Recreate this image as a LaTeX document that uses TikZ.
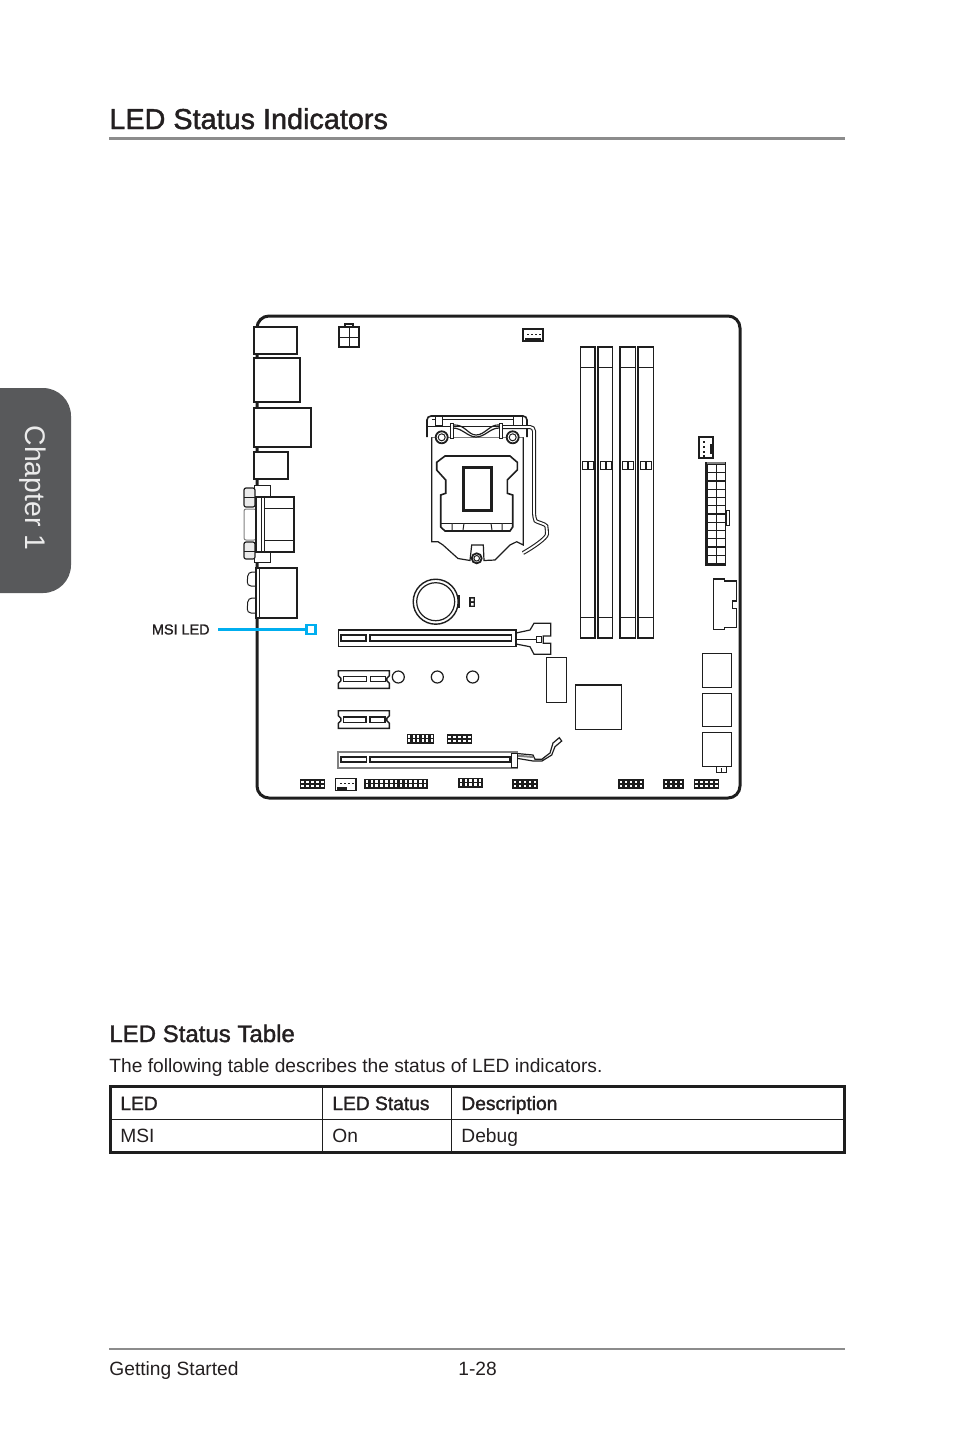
\documentclass[tikz,border=0pt]{standalone}
\usepackage{fontspec}
\setmainfont{Liberation Sans}
\newfontfamily\headfont[FakeBold=1.5]{Liberation Sans}
\definecolor{tabgrey}{RGB}{88, 89, 91}
\definecolor{rulegrey}{RGB}{140, 140, 140}
\definecolor{ledblue}{RGB}{0, 174, 239}
\definecolor{boardblack}{RGB}{30, 30, 30}
\definecolor{textblack}{RGB}{35, 31, 32}

\tikzset{
    board/.style={draw=boardblack, line width=0.7pt, fill=white},
    thickpart/.style={draw=boardblack, line width=1.1pt, fill=white},
    thinpart/.style={draw=boardblack, line width=0.5pt, fill=white},
    greypart/.style={draw=gray, line width=0.8pt, fill=white},
    slotcut/.style={draw=boardblack, line width=0.6pt, fill=white},
    plain/.style={inner sep=0, text=textblack, anchor=base west},
    headline/.style={plain, font=\headfont\fontsize{14.4}{16}\selectfont},
    subline/.style={plain, font=\headfont\fontsize{12}{14}\selectfont},
    bodyline/.style={plain, font=\fontsize{9.6}{12}\selectfont},
    boldcell/.style={plain, font=\headfont\fontsize{9.6}{12}\selectfont},
}

% black pin header: left, top, columns, column width
\newcommand{\pinheader}[4]{
    \fill[boardblack] (#1,#2) rectangle ++({#3*#4+0.6},10);
    \foreach \c in {1,...,#3} {
        \fill[white] ({#1+(\c-1)*#4+1.4},#2+1.6) rectangle ++({#4-2.3},2.7);
        \fill[white] ({#1+(\c-1)*#4+1.4},#2+5.6) rectangle ++({#4-2.3},2.7);
    }
}

\begin{document}
\begin{tikzpicture}[x=0.5pt, y=-0.5pt]
    \useasboundingbox (0,0) rectangle (954,1432);

    % chapter tab
    \fill[tabgrey, rounded corners=14pt] (-40,388) -- (71,388) -- (71,593) -- (-40,593) -- cycle;
    \node[inner sep=0, rotate=-90, text=white!92!black, font=\fontsize{14.2}{16}\selectfont] (chapter) at (33,488) {Chapter 1};

    % page heading
    \node[headline] (title) at (109,129) {LED Status Indicators};
    \fill[rulegrey] (109,137) rectangle (845,140);

    % board outline
    \draw[boardblack, line width=1.5pt, rounded corners=6pt] (257,640) -- (257,316) -- (740,316) -- (740,798) -- (257,798) -- cycle;

    % rear ports
    \draw[thickpart] (254,327) rectangle (297,354);
    \draw[board] (254,358) rectangle (300,402);
    \draw[board] (254,408) rectangle (311,447);
    \draw[board] (254,452) rectangle (288,479);
    \draw[thinpart] (254,485) rectangle (270,497);
    \draw[thinpart] (254,552) rectangle (270,562);
    \draw[greypart, line width=0.5pt, rounded corners=1pt] (244,509) rectangle (256,540);
    \draw[draw=boardblack, line width=0.6pt, fill=white!92!black, rounded corners=1pt] (244,488) rectangle (255,507);
    \draw[draw=boardblack, line width=0.6pt, fill=white!92!black, rounded corners=1pt] (244,542) rectangle (255,559);
    \draw[boardblack, line width=0.4pt] (244,497) -- (255,497) (244,551) -- (255,551);
    \draw[thickpart] (256,497) rectangle (294,552);
    \draw[thinpart] (261,497) -- (261,552) (264,497) -- (264,552) (264,508) -- (294,508) (264,540) -- (294,540);
    \draw[thinpart, rounded corners=2pt] (256,572) -- (248,572) -- (247,586) -- (256,586);
    \draw[thinpart, rounded corners=2pt] (256,598) -- (248,598) -- (247,613) -- (256,613);
    \draw[thickpart, line width=1.4pt] (256,568) rectangle (297,618);
    \draw[thinpart] (259,568) -- (259,618);

    % power connector and fan headers
    \draw[board] (345,327) -- (345,324) -- (353,324) -- (353,327);
    \draw[board] (339,327) rectangle (359,347);
    \draw[thinpart] (349,327) -- (349,347) (339,337) -- (359,337);
    \draw[board] (523,329) rectangle (543,341);
    \fill[boardblack] (525,338) rectangle (541,341);
    \foreach \px in {527,531,535,539} {
        \fill[boardblack] (\px,333.5) rectangle ++(1.8,1.8);
    }
    \draw[board] (699,437) rectangle (713,458);
    \fill[boardblack] (710,444) rectangle (713,454);
    \foreach \py in {441,446,451,455} {
        \fill[boardblack] (703,\py) rectangle ++(2,2);
    }

    % memory slots
    \foreach \sx/\sw in {580.5/14.7, 598.3/14.2, 620.3/15.2, 638.3/15.2} {
        \draw[board, line width=0.9pt] (\sx,347) rectangle ++(\sw,291);
        \draw[thinpart] (\sx,367) -- ++(\sw,0);
        \draw[boardblack, line width=0.9pt] (\sx,617.5) -- ++(\sw,0);
        \draw[thinpart] ({\sx+2.2},461) rectangle ++(5,8);
        \draw[thinpart] ({\sx+8.2},461) rectangle ++(5,8);
    }

    % 24 pin power
    \fill[boardblack] (705,462) rectangle (726,566);
    \fill[gray] (707,462) rectangle (725,464);
    \foreach \r in {0,...,11} {
        \fill[white] (708,{465+\r*8.27}) rectangle ++(7.5,7);
        \fill[white] (717,{465+\r*8.27}) rectangle ++(7.5,7);
    }
    \draw[thinpart] (726,510) rectangle (729,525);
    \draw[board] (713.3,579) -- (724.3,579) -- (724.3,581) -- (736.3,581) -- (736.3,601) -- (732.3,601) -- (732.3,608.3) -- (736.3,608.3) -- (736.3,627.7) -- (724.3,627.7) -- (724.3,629.7) -- (713.3,629.7) -- cycle;

    % cpu socket
    \draw[thinpart, line width=0.6pt] (431.7,437) -- (431.7,541.7) -- (438,541.7) -- (443,545) -- (458,558.5) -- (470,560.5) -- (471.7,545) -- (483.3,545) -- (484,560.5) -- (495,560) -- (510,545) -- (516.7,541.7) -- (523.3,545) -- (523.3,437) -- cycle;
    \draw[thinpart, line width=0.8pt, rounded corners=2pt] (427,437) -- (427,416) -- (527,416) -- (527,437);
    \draw[thinpart] (432,419) -- (523,419) (427,426) -- (500,426);
    \draw[boardblack, line width=2pt, rounded corners=2pt] (500,427) -- (534,427) -- (534,517) .. controls (536,522) and (546,524) .. (547,530) .. controls (547,538) and (532,548) .. (523,553);
    \draw[white, line width=0.9pt, rounded corners=2pt] (500,427) -- (534,427) -- (534,517) .. controls (536,522) and (546,524) .. (547,530) .. controls (547,538) and (532,548) .. (523,553);
    \draw[thinpart] (435,416) rectangle (442,425) (513,416) rectangle (522,425);
    \draw[thinpart] (450,423) rectangle (453,438) (499,423) rectangle (502,438);
    \draw[boardblack, line width=0.6pt] (453,425) .. controls (465,424) and (468,435) .. (476,435) .. controls (485,435) and (490,424) .. (499,425);
    \draw[boardblack, line width=0.6pt] (453,428) .. controls (462,428) and (468,437) .. (476,437) .. controls (485,437) and (490,428) .. (499,428);
    \foreach \sc in {(441.7,437.3), (512.7,437.3)} {
        \draw[thinpart, line width=0.9pt] \sc circle (6);
        \draw[thinpart] \sc circle (3.5);
    }
    \draw[thinpart, line width=0.9pt] (476.7,558.3) circle (5);
    \draw[thinpart] (476.7,558.3) circle (2.8);
    \draw[thinpart, line width=0.8pt] (445,456) -- (510,456) -- (517.3,462.3) -- (517.3,470) -- (507.3,480) -- (507.3,493.3) -- (512.7,495) -- (512.7,527) -- (510,531) -- (445,531) -- (440.7,527) -- (440.7,495) -- (445.7,493.3) -- (445.7,480) -- (436.7,470) -- (436.7,462.3) -- cycle;
    \draw[thinpart] (440.7,523.3) -- (512.7,523.3);
    \draw[thinpart] (452,523.3) -- (452,530) (464,523.3) -- (463,530) (491,523.3) -- (492,530) (502,523.3) -- (502,530);
    \draw[white, draw=boardblack, line width=1.3pt] (463.3,467.3) rectangle (491.7,510.7);

    % battery
    \draw[thinpart, line width=0.6pt] (455,596) rectangle (459,607);
    \draw[thickpart, line width=0.7pt] (435.7,601.7) circle (22.5);
    \draw[thinpart, line width=0.6pt] (435.7,601.7) circle (19);
    \fill[boardblack] (469,597) rectangle (475,607);
    \fill[white] (471,598.5) rectangle ++(2.5,2.5) (471,603) rectangle ++(2.5,2.5);

    % long slot with latch
    \draw[thinpart, line width=0.6pt] (516,633) -- (530,630) -- (534,623.3) -- (550.7,623.3) -- (550.7,636) -- (543.3,636) -- (543.3,643.3) -- (550.7,643.3) -- (550.7,654.3) -- (534,654.3) -- (530,646.7) -- (516,644) -- cycle;
    \draw[thinpart] (536,636) rectangle (541.5,642);
    \draw[thinpart] (516,639) -- (536,639);
    \draw[board] (338.3,629.5) rectangle (516,646.7);
    \draw[boardblack, line width=1pt] (338.3,630) -- (516,630);
    \draw[slotcut] (341,635) rectangle (366,641);
    \draw[slotcut] (370,635) rectangle (511.7,641);

    % short slots
    \foreach \ty in {670.7,710.7} {
        \draw[board] (338.3,\ty) -- (389.3,\ty) -- (389.3,{\ty+5}) -- (386.8,{\ty+7.5}) -- (386.8,{\ty+10}) -- (389.3,{\ty+12.5}) -- (389.3,{\ty+17.6}) -- (338.3,{\ty+17.6}) -- (338.3,{\ty+12.5}) -- (340.8,{\ty+10}) -- (340.8,{\ty+7.5}) -- (338.3,{\ty+5}) -- cycle;
    }
    \draw[slotcut, line width=0.5pt] (343.3,676.7) rectangle (366,681.7);
    \draw[slotcut, line width=0.5pt] (370,676.7) rectangle (385,681.7);
    \draw[slotcut, line width=0.8pt] (343.3,716.7) rectangle (366,722.3);
    \draw[slotcut, line width=0.8pt] (370,716.7) rectangle (385,722.3);
    \foreach \hx in {398.3,437.3,472.7} {
        \draw[thinpart, line width=0.6pt] (\hx,677) circle (6);
    }

    % bottom slot with latch
    \draw[thinpart, line width=0.6pt] (515,753.3) -- (533,755) -- (535,759.3) -- (541.7,759.3) -- (550,753) -- (553,743) -- (559.3,737.7) -- (561.7,741) -- (555,746.7) -- (551.7,755) -- (542,761) -- (533,761) -- (515,758) -- cycle;
    \draw[gray, line width=1pt] (515,755.5) -- (533,757);
    \draw[greypart, line width=1pt] (338.3,751.7) rectangle (517,767.7);
    \draw[slotcut, line width=0.8pt] (341,756.7) rectangle (366.5,761.7);
    \draw[slotcut, line width=0.8pt] (370,756.7) rectangle (510,761.7);
    \draw[thinpart] (511,753) rectangle (517,767);

    % chips
    \draw[draw=boardblack, line width=0.5pt, fill=white] (546,657.3) rectangle (566.7,702.7);
    \draw[thinpart, line width=0.6pt] (575.3,684.7) rectangle (621.7,729.3);
    \draw[boardblack, line width=0.9pt] (575.3,684.7) -- (621.7,684.7);
    \draw[thinpart, line width=0.7pt] (702.7,653.3) rectangle (731.7,687.3);
    \draw[thinpart, line width=0.7pt] (702.7,693.3) rectangle (731.7,726.7);
    \draw[thinpart, line width=0.7pt] (702.7,732.3) rectangle (731.7,766.7);
    \draw[thinpart] (716.7,766.7) rectangle (726.7,772.7);
    \draw[thinpart] (721.7,768) -- (721.7,772.7);

    % pin headers
    \pinheader{406.7}{733.5}{6}{4.5}
    \pinheader{446.7}{734}{5}{5}
    \pinheader{300}{779}{5}{4.9}
    \pinheader{364.3}{778.5}{13}{4.85}
    \pinheader{458.3}{777.5}{5}{4.8}
    \pinheader{512.3}{779}{5}{5}
    \pinheader{618.3}{779}{5}{5}
    \pinheader{663.3}{779}{4}{5}
    \pinheader{694}{779}{5}{4.9}
    \draw[board, line width=0.6pt] (335.3,778.3) rectangle (356,790.7);
    \fill[boardblack] (337,787) rectangle (347,790.7);
    \foreach \px in {340,344,348,352} {
        \fill[boardblack] (\px,782.5) rectangle ++(1.6,1.6);
    }

    % led callout
    \node[inner sep=0, anchor=east, text=textblack, font=\headfont\fontsize{7.2}{9}\selectfont] (msilabel) at (210,629.5) {MSI LED};
    \node[draw=ledblue, line width=1.2pt, fill=white, minimum size=4.5pt, inner sep=0] (msiled) at (311,629.5) {};
    \coordinate (linestart) at (218,629.5);
    \draw[ledblue, line width=1.2pt] (linestart) -- (msiled);

    % table
    \node[subline] (tabletitle) at (109,1042) {LED Status Table};
    \node[bodyline] (tableintro) at (109,1072) {The following table describes the status of LED indicators.};
    \draw[boardblack, line width=0.5pt] (110,1119.5) -- (845,1119.5) (322.5,1086) -- (322.5,1153) (451,1086) -- (451,1153);
    \draw[boardblack, line width=1.5pt] (110,1086) rectangle (844.5,1152.5);
    \node[boldcell] (headled) at (120,1110) {LED};
    \node[boldcell] (headstatus) at (332,1110) {LED Status};
    \node[boldcell] (headdesc) at (461,1110) {Description};
    \node[bodyline] (cellled) at (120,1142) {MSI};
    \node[bodyline] (cellstatus) at (332,1142) {On};
    \node[bodyline] (celldesc) at (461,1142) {Debug};

    % footer
    \fill[rulegrey] (109,1348) rectangle (845,1350);
    \node[bodyline] (footleft) at (109,1375) {Getting Started};
    \node[bodyline] (footpage) at (458,1375) {1-28};
\end{tikzpicture}
\end{document}
